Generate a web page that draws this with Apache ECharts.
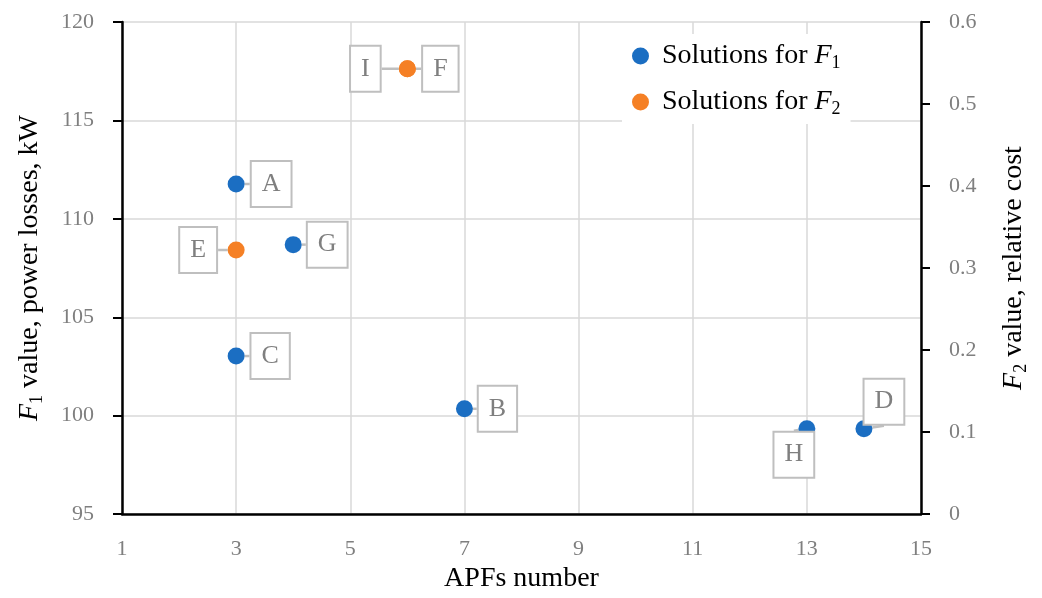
<!DOCTYPE html>
<html>
<head>
<meta charset="utf-8">
<script src="https://cdn.jsdelivr.net/npm/echarts@6/dist/echarts.min.js"></script>
<style>html,body{margin:0;padding:0;background:#fff}#c{width:1042px;height:598px}</style>
</head>
<body>
<div id="c"></div>
<script>
// ---- data ----
const f1X = [3, 4, 3, 7, 13, 14];
const f1Y = [111.77, 108.69, 103.03, 100.35, 99.34, 99.34];
const f1Labels = ['A', 'G', 'C', 'B', 'H', 'D'];
const f2X = [3, 6, 6];
const f2Y = [0.322, 0.543, 0.543];
const f2Labels = ['E', 'I', 'F'];
const seriesNames = ['Solutions for F1', 'Solutions for F2'];

// ---- styling (callout offsets in px) ----
const calloutOffset = {A:[35,0], G:[34,0], C:[34,0], B:[33,0], H:[-13,26], D:[20,-27], E:[-38,0], I:[-42,0], F:[33,0]};
const FONT = 'Liberation Serif';
const BLUE = '#1b6ec2', ORANGE = '#f58025';

const subRich = {
  i: {fontStyle: 'italic', fontFamily: FONT, fontSize: 28, lineHeight: 32, color: '#000'},
  s: {fontFamily: FONT, fontSize: 18, lineHeight: 16, verticalAlign: 'bottom', color: '#000'}
};

function mk(xs, ys, labels) {
  return xs.map((x, i) => ({value: [x, ys[i]], name: labels[i]}));
}
const allLabels = [f1Labels, f2Labels];

const chart = echarts.init(document.getElementById('c'), null, {renderer: 'canvas'});
const labelStyle = {
  show: true, position: 'inside', formatter: p => p.name,
  fontFamily: FONT, fontSize: 26, color: '#7f7f7f',
  backgroundColor: '#fff', borderColor: '#bfbfbf', borderWidth: 2,
  padding: [9, 10, 8, 10], lineHeight: 27
};
chart.setOption({
  animation: false,
  grid: {left: 122, right: 121, top: 22, bottom: 80},
  legend: {
    orient: 'vertical', left: 622, top: 34, backgroundColor: '#fff',
    padding: [6, 10], itemGap: 14, itemWidth: 17, itemHeight: 17, icon: 'circle',
    data: seriesNames,
    formatter: n => n === seriesNames[0] ? 'Solutions for {i|F}{s|1}' : 'Solutions for {i|F}{s|2}',
    textStyle: {fontFamily: FONT, fontSize: 28, lineHeight: 32, color: '#000', padding: [0, 0, 0, 8], rich: subRich}
  },
  xAxis: {
    type: 'value', min: 1, max: 15, interval: 2,
    name: 'APFs number', nameLocation: 'middle', nameGap: 50,
    nameTextStyle: {fontFamily: FONT, fontSize: 28, color: '#000'},
    axisLine: {show: true, onZero: false, lineStyle: {color: '#000', width: 2.5}},
    axisTick: {show: false},
    axisLabel: {fontFamily: FONT, fontSize: 22, color: '#7f7f7f', margin: 24},
    splitLine: {show: true, lineStyle: {color: '#d9d9d9', width: 1.5}}
  },
  yAxis: [{
    type: 'value', min: 95, max: 120, interval: 5, position: 'left',
    name: '{i|F}{s|1} value, power losses, kW', nameLocation: 'middle', nameGap: 76,
    nameTextStyle: {fontFamily: FONT, fontSize: 28, lineHeight: 32, color: '#000', rich: subRich},
    axisLine: {show: true, lineStyle: {color: '#000', width: 2.5}},
    axisTick: {show: true, length: 9, lineStyle: {color: '#000', width: 2}},
    axisLabel: {fontFamily: FONT, fontSize: 22, color: '#7f7f7f', margin: 28},
    splitLine: {show: true, lineStyle: {color: '#d9d9d9', width: 1.5}}
  }, {
    type: 'value', min: 0, max: 0.6, interval: 0.1, position: 'right',
    name: '{i|F}{s|2} value, relative cost', nameLocation: 'middle', nameGap: 77,
    nameTextStyle: {fontFamily: FONT, fontSize: 28, lineHeight: 32, color: '#000', rich: subRich},
    axisLine: {show: true, lineStyle: {color: '#000', width: 2.5}},
    axisTick: {show: true, length: 9, lineStyle: {color: '#000', width: 2}},
    axisLabel: {fontFamily: FONT, fontSize: 22, color: '#7f7f7f', margin: 28},
    splitLine: {show: false}
  }],
  series: [{
    name: seriesNames[0], type: 'scatter', yAxisIndex: 0, symbolSize: 17,
    itemStyle: {color: BLUE, opacity: 1}, data: mk(f1X, f1Y, f1Labels),
    label: labelStyle,
    labelLine: {show: true, lineStyle: {color: '#bfbfbf', width: 2.5}}
  }, {
    name: seriesNames[1], type: 'scatter', yAxisIndex: 1, symbolSize: 17,
    itemStyle: {color: ORANGE, opacity: 1}, data: mk(f2X, f2Y, f2Labels),
    label: labelStyle,
    labelLine: {show: true, lineStyle: {color: '#bfbfbf', width: 2.5}}
  }],
  labelLayout: function (p) {
    const name = allLabels[p.seriesIndex][p.dataIndex];
    const o = calloutOffset[name];
    return {dx: o[0], dy: o[1]};
  }
});
</script>
</body>
</html>
